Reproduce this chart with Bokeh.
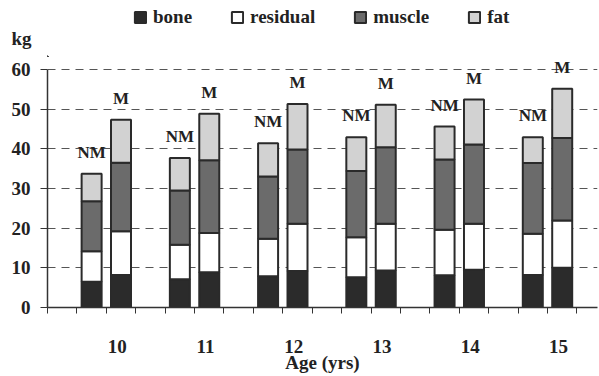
from bokeh.plotting import figure
from bokeh.layouts import column
from bokeh.models import (ColumnDataSource, Range1d, FixedTicker, Legend, LegendItem,
                          LabelSet, CustomJSTickFormatter)
from bokeh.embed import file_html
from bokeh.resources import INLINE

ages = ["10", "11", "12", "13", "14", "15"]
components = ["bone", "residual", "muscle", "fat"]
group_names = ["NM", "M"]
unit_label = "kg"
x_title = "Age (yrs)"

nm_bone = [6.5, 7.1, 7.9, 7.6, 8.1, 8.2]
nm_residual = [7.7, 8.7, 9.4, 10.1, 11.5, 10.4]
nm_muscle = [12.6, 13.7, 15.7, 16.7, 17.7, 17.8]
nm_fat = [6.9, 8.2, 8.4, 8.5, 8.3, 6.5]

m_bone = [8.2, 8.9, 9.2, 9.3, 9.5, 10.0]
m_residual = [11.0, 9.9, 11.9, 11.8, 11.6, 11.9]
m_muscle = [17.3, 18.3, 18.7, 19.3, 20.0, 20.8]
m_fat = [10.8, 11.7, 11.5, 10.7, 11.3, 12.4]

y_ticks = [0, 10, 20, 30, 40, 50, 60]

colors = ["#2b2b2b", "#ffffff", "#6b6b6b", "#d2d2d2"]
FONT = "Liberation Serif"
TXT = "#222222"
EDGE = "#2a2a2a"
AX = "#333333"

n = len(ages)
x_nm = [3 * i + 1.5 for i in range(n)]
x_m = [3 * i + 2.5 for i in range(n)]
label_shift = 2.375

src_nm = ColumnDataSource(dict(x=x_nm, bone=nm_bone, residual=nm_residual,
                               muscle=nm_muscle, fat=nm_fat))
src_m = ColumnDataSource(dict(x=x_m, bone=m_bone, residual=m_residual,
                              muscle=m_muscle, fat=m_fat))

W = 598
HEAD_H = 57
BORDER_L = 47

# ---------------- header: legend + unit ----------------
head = figure(width=W, height=HEAD_H, x_range=Range1d(0, 550), y_range=Range1d(0, HEAD_H),
              output_backend="svg", toolbar_location=None,
              min_border_left=BORDER_L, min_border_right=1, min_border_top=0,
              min_border_bottom=0, x_axis_location=None, y_axis_location="left")
head.outline_line_color = None
head.grid.visible = False
hy = head.yaxis[0]
hy.ticker = FixedTicker(ticks=[HEAD_H - 38])
hy.formatter = CustomJSTickFormatter(args=dict(unit=unit_label), code="return unit;")
hy.axis_line_color = None
hy.major_tick_line_color = None
hy.major_tick_out = 0
hy.major_tick_in = 0
hy.minor_tick_out = 0
hy.major_label_standoff = 16
hy.major_label_text_font = FONT
hy.major_label_text_font_style = "bold"
hy.major_label_text_font_size = "19px"
hy.major_label_text_color = TXT

# legend swatch carriers (kept outside the visible header range)
swatches = []
for col in colors:
    swatches.append(head.vbar(x=[-1000], top=[1], width=1, fill_color=col,
                              line_color=EDGE, line_width=2))
legend = Legend(items=[LegendItem(label=c, renderers=[r]) for c, r in zip(components, swatches)],
                orientation="horizontal", location=(86, HEAD_H - 28), padding=0, margin=0,
                spacing=38, label_standoff=6, glyph_width=14, glyph_height=14,
                border_line_color=None, background_fill_alpha=0,
                label_text_font=FONT, label_text_font_style="bold",
                label_text_font_size="19px", label_text_color=TXT)
head.add_layout(legend, "center")

# ---------------- main chart ----------------
p = figure(width=W, height=375 - HEAD_H, x_range=Range1d(0, 18.7), y_range=Range1d(0, 63),
           output_backend="svg", toolbar_location=None,
           min_border_left=BORDER_L, min_border_right=1, min_border_top=0,
           min_border_bottom=68)
p.outline_line_color = None
p.background_fill_color = "white"
p.xgrid.visible = False
p.ygrid.ticker = FixedTicker(ticks=y_ticks)
p.ygrid.grid_line_color = "#555555"
p.ygrid.grid_line_dash = "8 6"
p.ygrid.grid_line_width = 1

p.vbar_stack(components, x="x", width=0.68, source=src_nm, fill_color=colors,
             line_color=EDGE, line_width=2)
p.vbar_stack(components, x="x", width=0.68, source=src_m, fill_color=colors,
             line_color=EDGE, line_width=2)

tot_nm = [a + b + c + d for a, b, c, d in zip(nm_bone, nm_residual, nm_muscle, nm_fat)]
tot_m = [a + b + c + d for a, b, c, d in zip(m_bone, m_residual, m_muscle, m_fat)]
lab_src = ColumnDataSource(dict(x=x_nm + x_m, y=tot_nm + tot_m,
                                t=[group_names[0]] * n + [group_names[1]] * n))
p.add_layout(LabelSet(x="x", y="y", text="t", source=lab_src, text_align="center",
                      text_baseline="alphabetic", y_offset=16, text_font=FONT,
                      text_font_style="bold", text_font_size="17px", text_color=TXT))

ya = p.yaxis[0]
ya.ticker = FixedTicker(ticks=y_ticks)
ya.bounds = (0, 60)
ya.major_label_text_font = FONT
ya.major_label_text_font_style = "bold"
ya.major_label_text_font_size = "19px"
ya.major_label_text_color = TXT
ya.major_tick_out = 7
ya.major_tick_in = 0
ya.minor_tick_out = 0
ya.major_label_standoff = 10
ya.axis_line_color = AX
ya.axis_line_width = 1.5
ya.major_tick_line_color = AX

xa = p.xaxis[0]
xa.ticker = FixedTicker(ticks=[3 * i + label_shift for i in range(n)],
                        minor_ticks=list(range(19)))
xa.formatter = CustomJSTickFormatter(args=dict(labels=ages, shift=label_shift),
                                     code="return labels[Math.round((tick - shift) / 3)];")
xa.minor_tick_out = 6
xa.minor_tick_in = 0
xa.major_tick_out = 0
xa.major_tick_in = 0
xa.major_label_standoff = 26
xa.major_label_text_font = FONT
xa.major_label_text_font_style = "bold"
xa.major_label_text_font_size = "19px"
xa.major_label_text_color = TXT
xa.axis_label = x_title
xa.axis_label_standoff = -4
xa.axis_label_text_font = FONT
xa.axis_label_text_font_style = "bold"
xa.axis_label_text_font_size = "19px"
xa.axis_label_text_color = TXT
xa.axis_line_color = AX
xa.axis_line_width = 1.5
xa.minor_tick_line_color = AX

layout = column(head, p, spacing=0)
open("out.html", "w").write(file_html(layout, INLINE))
